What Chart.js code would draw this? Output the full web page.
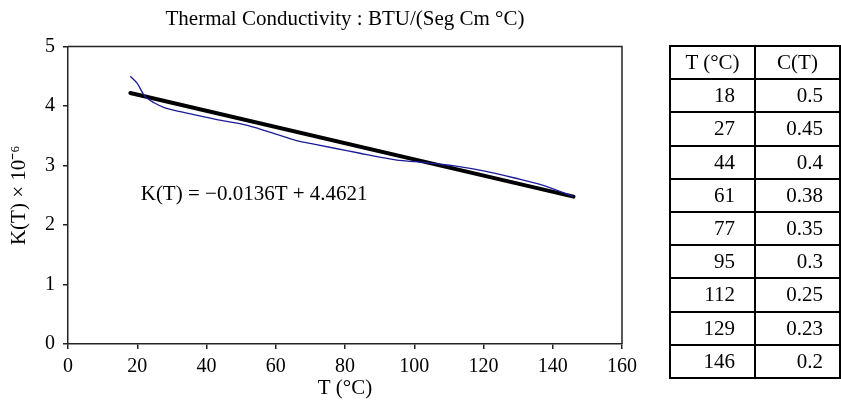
<!DOCTYPE html>
<html>
<head>
<meta charset="utf-8">
<script src="https://cdn.jsdelivr.net/npm/chart.js@4"></script>
<style>
  body { margin: 0; background: #fff; }
  #wrap { position: relative; width: 841px; height: 408px; overflow: hidden; }
  #tbl {
    position: absolute; left: 669px; top: 45px;
    border-collapse: collapse;
    font-family: "Liberation Serif", "Times New Roman", serif; font-size: 21px; color: #000;
  }
  #tbl tr { height: 33.2px; }
  #tbl td, #tbl th {
    border: 2px solid #000; width: 85px; padding: 0;
    font-weight: normal; box-sizing: border-box; line-height: 1;
  }
  #tbl th { text-align: center; }
  #tbl td.t { text-align: right; padding-right: 19px; }
  #tbl td.c { text-align: right; padding-right: 16px; }
</style>
</head>
<body>
<div id="wrap">
  <canvas id="myChart" width="841" height="408"></canvas>
  <table id="tbl"></table>
</div>
<script>
// Curva medida de K(T)
const temps = [18, 20, 22, 25, 28, 32, 36, 40, 45, 50, 55, 61, 66, 71, 77, 84, 90, 95, 101, 106, 112, 120, 129, 137, 146];
const conductivity = [4.50, 4.38, 4.18, 4.05, 3.97, 3.91, 3.86, 3.81, 3.75, 3.70, 3.62, 3.51, 3.42, 3.36, 3.29, 3.21, 3.14, 3.09, 3.06, 3.03, 2.99, 2.91, 2.79, 2.67, 2.48];

// Reta de ajuste K(T) = a*T + b
const slope = [-0.0136];
const intercept = [4.4621];
const trendRange = [18, 146];

// Tabela lateral
const tableT = [18, 27, 44, 61, 77, 95, 112, 129, 146];
const tableC = [0.5, 0.45, 0.4, 0.38, 0.35, 0.3, 0.25, 0.23, 0.2];

const xTicks = [0, 20, 40, 60, 80, 100, 120, 140, 160];
const yTicks = [0, 1, 2, 3, 4, 5];

const serif = '"Liberation Serif", "Times New Roman", serif';

// monta a tabela
let html = '<tr><th>T (°C)</th><th>C(T)</th></tr>';
tableT.forEach((t, i) => {
    html += '<tr><td class="t">' + t + '</td><td class="c">' + tableC[i] + '</td></tr>';
});
document.getElementById('tbl').innerHTML = html;

const trendPts = trendRange.map(t => ({ x: t, y: slope[0] * t + intercept[0] }));

// moldura superior e direita da área do gráfico
const frame = {
    id: 'frame',
    afterDraw(chart) {
        const { ctx, chartArea: a } = chart;
        ctx.save();
        ctx.strokeStyle = '#222';
        ctx.lineWidth = 1.5;
        ctx.beginPath();
        ctx.moveTo(a.left, a.top);
        ctx.lineTo(a.right, a.top);
        ctx.lineTo(a.right, a.bottom);
        ctx.stroke();
        ctx.restore();
    }
};

// texto da equação
const equation = {
    id: 'equation',
    afterDatasetsDraw(chart) {
        const { ctx, scales } = chart;
        ctx.save();
        ctx.font = '21px ' + serif;
        ctx.fillStyle = '#000';
        ctx.textAlign = 'left';
        ctx.textBaseline = 'middle';
        ctx.fillText('K(T) = \u22120.0136T + 4.4621', scales.x.getPixelForValue(21), scales.y.getPixelForValue(2.52));
        ctx.restore();
    }
};

const ctx = document.getElementById('myChart').getContext('2d');
const myChart = new Chart(ctx, {
    type: 'scatter',
    data: {
        datasets: [{
            data: temps.map((t, i) => ({ x: t, y: conductivity[i] })),
            showLine: true,
            borderColor: '#1c1c9a',
            borderWidth: 1.3,
            pointRadius: 0,
            tension: 0.4,
            cubicInterpolationMode: 'monotone'
        }, {
            data: trendPts,
            showLine: true,
            borderColor: '#000',
            borderWidth: 4,
            borderCapStyle: 'round',
            pointRadius: 0
        }]
    },
    options: {
        responsive: false,
        animation: false,
        events: [],
        layout: { padding: { left: 0, right: 219, top: 0, bottom: 0 } },
        plugins: {
            legend: { display: false },
            tooltip: { enabled: false },
            title: {
                display: true,
                fullSize: false,
                text: 'Thermal Conductivity : BTU/(Seg Cm °C)',
                color: '#000',
                font: { family: serif, size: 21, weight: 'normal' },
                padding: { top: 7, bottom: 14.3 }
            }
        },
        scales: {
            x: {
                type: 'linear',
                min: 0,
                max: 160,
                afterBuildTicks: s => { s.ticks = xTicks.map(v => ({ value: v })); },
                ticks: { color: '#000', font: { family: serif, size: 20 }, padding: 6, maxRotation: 0 },
                grid: { drawOnChartArea: false, tickLength: 5, color: '#222', lineWidth: 1.5 },
                border: { color: '#222', width: 1.5 },
                title: {
                    display: true, text: 'T (°C)', color: '#000',
                    font: { family: serif, size: 21 }, padding: { top: 0, bottom: 7.4 }
                },
                afterFit: s => { s.height = 64; }
            },
            y: {
                min: 0,
                max: 5,
                afterBuildTicks: s => { s.ticks = yTicks.map(v => ({ value: v })); },
                ticks: { color: '#000', font: { family: serif, size: 20 }, padding: 8 },
                grid: { drawOnChartArea: false, tickLength: 5, color: '#222', lineWidth: 1.5 },
                border: { color: '#222', width: 1.5 },
                title: {
                    display: true, text: 'K(T) × 10⁻⁶', color: '#000',
                    font: { family: serif, size: 21 }, padding: { top: 6.4, bottom: 0 }
                },
                afterFit: s => { s.width = 68; }
            }
        }
    },
    plugins: [frame, equation]
});
</script>
</body>
</html>
